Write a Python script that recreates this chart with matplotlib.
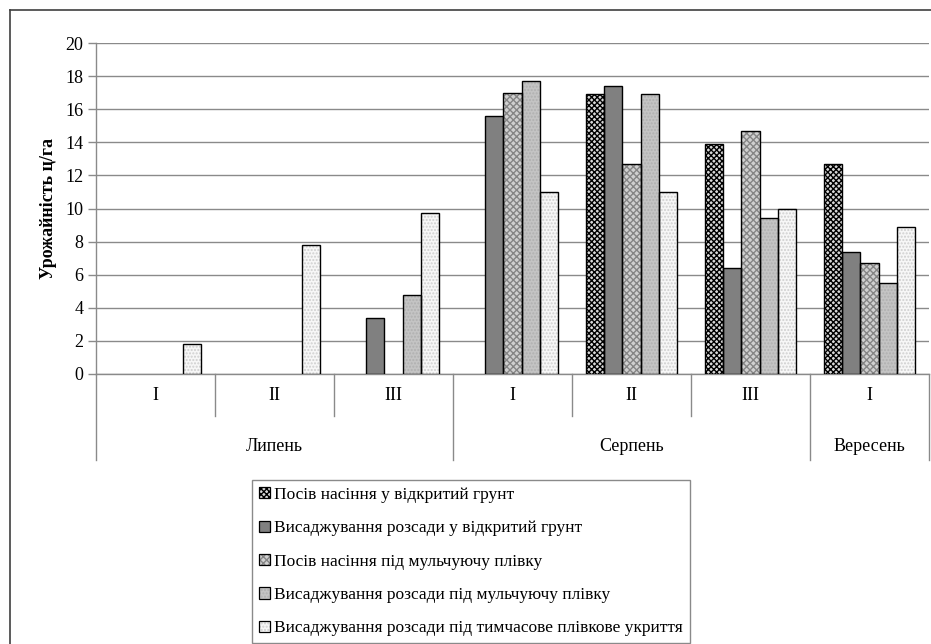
import numpy as np
import matplotlib
matplotlib.use('Agg')
import matplotlib.pyplot as plt
from matplotlib.patches import Patch
from matplotlib.lines import Line2D
from matplotlib.legend_handler import HandlerTuple

plt.rcParams['font.family'] = ['Liberation Serif', 'DejaVu Serif']
plt.rcParams['hatch.linewidth'] = 1.0

# Декади та місяці
dekady = ['I', 'II', 'III', 'I', 'II', 'III', 'I']
misyatsi = ['Липень', 'Серпень', 'Вересень']
misyats_dekad = [3, 3, 1]

# Урожайність, ц/га (0 - збору не було)
posiv_vidkr = [0, 0, 0, 0, 16.9, 13.9, 12.7]
rozsada_vidkr = [0, 0, 3.4, 15.6, 17.4, 6.4, 7.4]
posiv_mulch = [0, 0, 0, 17.0, 12.7, 14.7, 6.7]
rozsada_mulch = [0, 0, 4.8, 17.7, 16.9, 9.4, 5.5]
rozsada_ukryttya = [1.8, 7.8, 9.7, 11.0, 11.0, 10.0, 8.9]

nazvy = ['Посів насіння у відкритий грунт',
         'Висаджування розсади у відкритий грунт',
         'Посів насіння під мульчуючу плівку',
         'Висаджування розсади під мульчуючу плівку',
         'Висаджування розсади під тимчасове плівкове укриття']

# фон, колір штриховки, штриховка
styli = [('#d8d8d8', '#000000', 'xxxxxx'),
         ('#808080', '#808080', None),
         ('#d0d0d0', '#858585', 'xxxxx'),
         ('#c4c4c4', '#b0b0b0', '.....'),
         ('#f7f7f7', '#cfcfcf', '.....')]

seriyi = [posiv_vidkr, rozsada_vidkr, posiv_mulch, rozsada_mulch, rozsada_ukryttya]

fig = plt.figure(figsize=(9.31, 6.44), dpi=100)
ax = fig.add_axes([96 / 931, 1 - 374 / 644, 833 / 931, 331 / 644])

x = np.arange(len(dekady))
w = 1 / 6.5
handles = []
for i, (vals, (fc, hc, htch)) in enumerate(zip(seriyi, styli)):
    vals = np.array(vals, dtype=float)
    m = vals > 0
    xs = x[m] + (i - 2) * w
    ax.bar(xs, vals[m], w, facecolor=fc, edgecolor=hc, hatch=htch,
           linewidth=0, zorder=3)
    ax.bar(xs, vals[m], w, facecolor='none', edgecolor='black',
           linewidth=1.0, zorder=4)
    handles.append((Patch(facecolor=fc, edgecolor=hc, hatch=htch, linewidth=0),
                    Patch(facecolor='none', edgecolor='black', linewidth=0.9)))

ax.set_xlim(-0.5, len(dekady) - 0.5)
ax.set_ylim(0, 20)
ax.set_yticks(np.arange(0, 21, 2))
ax.yaxis.grid(True, color='#8a8a8a', linewidth=1.0, zorder=0)
ax.set_axisbelow(True)
ax.tick_params(axis='y', labelsize=13, length=6, width=1, color='#8a8a8a', pad=3)
ax.tick_params(axis='x', bottom=False, labelbottom=False)
for s in ['top', 'right']:
    ax.spines[s].set_visible(False)
for s in ['left', 'bottom']:
    ax.spines[s].set_color('#8a8a8a')
    ax.spines[s].set_linewidth(1.0)

ax.set_ylabel('Урожайність ц/га', fontsize=13, fontweight='bold', labelpad=6)

# Дворівнева вісь категорій
tr = ax.get_xaxis_transform()
kordony_m = np.concatenate([[0], np.cumsum(misyats_dekad)]) - 0.5
for b in np.arange(len(dekady) + 1) - 0.5:
    dn = -0.26 if b in kordony_m else -0.127
    ax.add_line(Line2D([b, b], [0, dn], transform=tr, color='#8a8a8a',
                       linewidth=1.0, clip_on=False))
for xi, d in zip(x, dekady):
    ax.text(xi, -0.066, d, transform=tr, ha='center', va='center', fontsize=13)
for k, name in enumerate(misyatsi):
    c = (kordony_m[k] + kordony_m[k + 1]) / 2
    ax.text(c, -0.22, name, transform=tr, ha='center', va='center', fontsize=13)

fig.legend(handles, nazvy, handler_map={tuple: HandlerTuple(ndivide=1, pad=0)},
           loc='upper left', bbox_to_anchor=(252 / 931, 1 - 480 / 644),
           bbox_transform=fig.transFigure, fontsize=12.5, frameon=True,
           fancybox=False, edgecolor='#8a8a8a', framealpha=1, borderaxespad=0,
           borderpad=0.4, handlelength=0.62, handleheight=0.62,
           handletextpad=0.25, labelspacing=1.0)

# рамка діаграми
fig.add_artist(Line2D([10 / 931, 10 / 931], [0, 1 - 10 / 644], color='#404040',
                      linewidth=1.2))
fig.add_artist(Line2D([10 / 931, 1], [1 - 10 / 644, 1 - 10 / 644], color='#404040',
                      linewidth=1.2))

fig.savefig('out.png', dpi=100)
plt.close(fig)
